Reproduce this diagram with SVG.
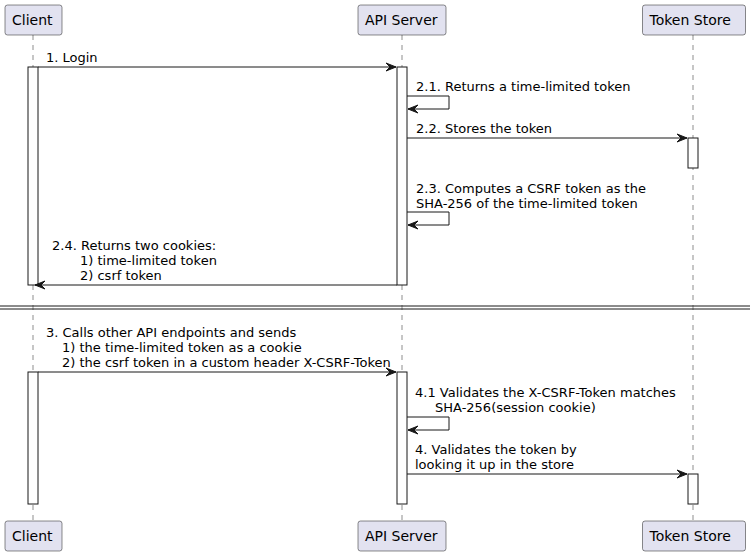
<svg xmlns="http://www.w3.org/2000/svg" width="756" height="556" viewBox="0 0 756 556">
<style>
.pbox{fill:#E2E2F0;stroke:#181818;stroke-width:0.5}
.ptxt{font-family:"DejaVu Sans",sans-serif;font-size:14px;fill:#000}
.life{stroke:#181818;stroke-width:0.5;stroke-dasharray:5,5;fill:none}
.act{fill:#FFFFFF;stroke:#181818;stroke-width:1}
.msg{stroke:#181818;stroke-width:1;fill:none}
.head{fill:#181818;stroke:#181818;stroke-width:1}
.mtxt{font-family:"DejaVu Sans",sans-serif;font-size:13px;fill:#000}
.div{stroke:#181818;stroke-width:1}
</style>
<rect width="756" height="556" fill="#FFFFFF"/>
<g id="lifelines">
<line class="life" x1="33" y1="35" x2="33" y2="521"/>
<line class="life" x1="402" y1="35" x2="402" y2="521"/>
<line class="life" x1="693" y1="35" x2="693" y2="521"/>
</g>
<g id="activations">
<rect class="act" x="28" y="67" width="10" height="218"/>
<rect class="act" x="397" y="67" width="10" height="218"/>
<rect class="act" x="688" y="138" width="10" height="30"/>
<rect class="act" x="28" y="372" width="10" height="132"/>
<rect class="act" x="397" y="372" width="10" height="132"/>
<rect class="act" x="688" y="474" width="10" height="30"/>
</g>
<g id="client">
<rect class="pbox" x="5" y="5" width="57" height="30" rx="2.5"/>
<text class="ptxt" x="12" y="25">Client</text>
<rect class="pbox" x="5" y="521" width="57" height="30" rx="2.5"/>
<text class="ptxt" x="12" y="541">Client</text>
</g>
<g id="api-server">
<rect class="pbox" x="358" y="5" width="88" height="30" rx="2.5"/>
<text class="ptxt" x="365" y="25">API Server</text>
<rect class="pbox" x="358" y="521" width="88" height="30" rx="2.5"/>
<text class="ptxt" x="365" y="541">API Server</text>
</g>
<g id="token-store">
<rect class="pbox" x="642.5" y="5" width="103" height="30" rx="2.5"/>
<text class="ptxt" x="649.5" y="25">Token Store</text>
<rect class="pbox" x="642.5" y="521" width="103" height="30" rx="2.5"/>
<text class="ptxt" x="649.5" y="541">Token Store</text>
</g>
<g id="divider">
<line class="div" x1="0" y1="306" x2="750" y2="306"/>
<line class="div" x1="0" y1="309" x2="750" y2="309"/>
</g>
<g id="connectors">
<line class="msg" x1="38" y1="67" x2="396" y2="67"/>
<polygon class="head" points="386,63 396,67 386,71 390,67"/>
<text class="mtxt" x="46" y="62">1. Login</text>

<polyline class="msg" points="407,96 449,96 449,109 408,109"/>
<polygon class="head" points="418,105 408,109 418,113 414,109"/>
<text class="mtxt" x="416" y="91">2.1. Returns a time-limited token</text>

<line class="msg" x1="407" y1="138" x2="687" y2="138"/>
<polygon class="head" points="677,134 687,138 677,142 681,138"/>
<text class="mtxt" x="416" y="133">2.2. Stores the token</text>

<polyline class="msg" points="407,212 449,212 449,225 408,225"/>
<polygon class="head" points="418,221 408,225 418,229 414,225"/>
<text class="mtxt" x="416" y="193">2.3. Computes a CSRF token as the</text>
<text class="mtxt" x="416" y="208">SHA-256 of the time-limited token</text>

<line class="msg" x1="397" y1="285" x2="35" y2="285"/>
<polygon class="head" points="45,281 35,285 45,289 41,285"/>
<text class="mtxt" x="52" y="250">2.4. Returns two cookies:</text>
<text class="mtxt" x="80" y="265">1) time-limited token</text>
<text class="mtxt" x="80" y="280">2) csrf token</text>

<line class="msg" x1="38" y1="372" x2="396" y2="372"/>
<polygon class="head" points="386,368 396,372 386,376 390,372"/>
<text class="mtxt" x="46" y="337">3. Calls other API endpoints and sends</text>
<text class="mtxt" x="62" y="352">1) the time-limited token as a cookie</text>
<text class="mtxt" x="62" y="367">2) the csrf token in a custom header X-CSRF-Token</text>

<polyline class="msg" points="407,417 449,417 449,430 408,430"/>
<polygon class="head" points="418,426 408,430 418,434 414,430"/>
<text class="mtxt" x="415" y="397">4.1 Validates the X-CSRF-Token matches</text>
<text class="mtxt" x="435" y="412">SHA-256(session cookie)</text>

<line class="msg" x1="407" y1="474" x2="687" y2="474"/>
<polygon class="head" points="677,470 687,474 677,478 681,474"/>
<text class="mtxt" x="415" y="454">4. Validates the token by</text>
<text class="mtxt" x="415" y="469">looking it up in the store</text>
</g>
</svg>
